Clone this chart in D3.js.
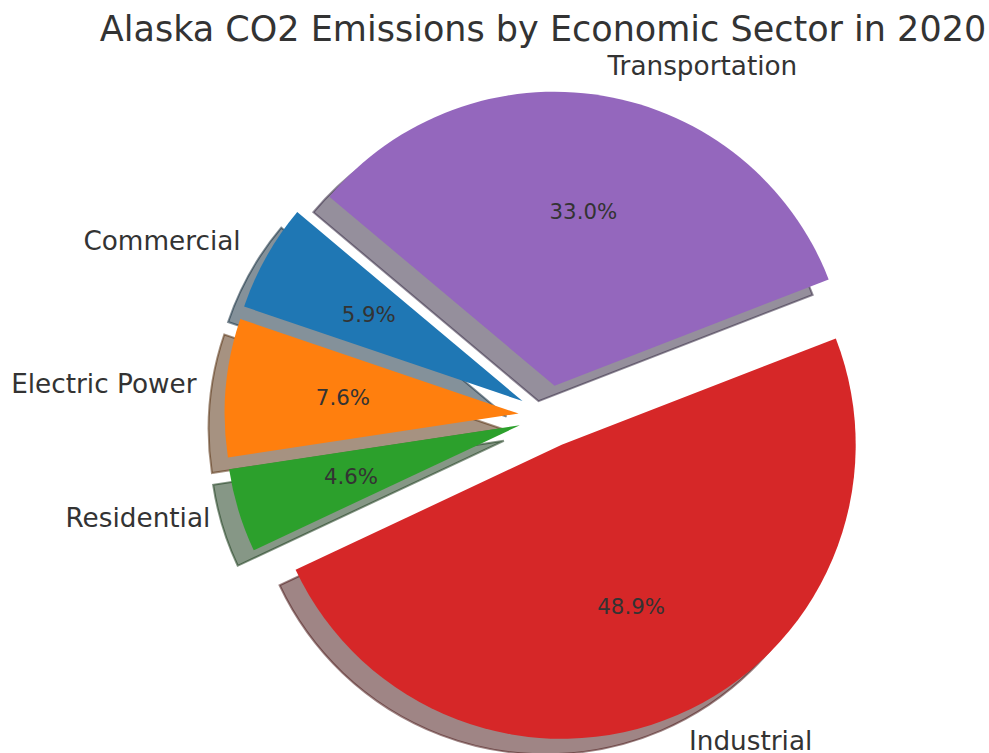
<!DOCTYPE html>
<html>
<head>
<meta charset="utf-8">
<script src="https://cdn.jsdelivr.net/npm/d3@7"></script>
<style>
  body { margin: 0; background: #fff; }
  text { font-family: "DejaVu Sans", sans-serif; fill: #333; }
</style>
</head>
<body>
<svg id="root"></svg>
<script>
var sectors = ['Commercial', 'Electric Power', 'Residential', 'Industrial', 'Transportation'];
var shares = [5.9, 7.6, 4.6, 48.9, 33.0];
var colors = ['#1f77b4', '#ff7f0e', '#2ca02c', '#d62728', '#9467bd'];
var title = 'Alaska CO2 Emissions by Economic Sector in 2020';

var width = 989,
    height = 753,
    cx = 549.5,
    cy = 416.3,
    r = 294,
    explode = 31,
    shadowDx = -16,
    shadowDy = 15.5,
    root = d3.select('#root')
        .attr('width', width)
        .attr('height', height);

root.append('rect')
    .attr('width', width)
    .attr('height', height)
    .attr('fill', '#fff');

root.append('text')
    .attr('x', 543)
    .attr('y', 41)
    .attr('text-anchor', 'middle')
    .attr('font-size', 35)
    .text(title);

// matplotlib style: startangle 140, counterclockwise
var start = (90 - 140) * Math.PI / 180;
var pie = d3.pie()
    .sort(null)
    .value(function(d) { return d; })
    .startAngle(start)
    .endAngle(start - 2 * Math.PI);

var color = d3.scaleOrdinal().domain(sectors).range(colors);
var arc = d3.arc().innerRadius(0).outerRadius(r);
var total = d3.sum(shares);

var slices = pie(shares).map(function(p, i) {
    var mid = (p.startAngle + p.endAngle) / 2;
    p.name = sectors[i];
    p.ux = Math.sin(mid);
    p.uy = -Math.cos(mid);
    p.ox = cx + explode * p.ux;
    p.oy = cy + explode * p.uy;
    return p;
});

function shade(c) {
    var rgb = d3.rgb(c);
    return d3.rgb(rgb.r * 0.3, rgb.g * 0.3, rgb.b * 0.3).toString();
}

// shadows go under every wedge
root.append('g').selectAll('path')
    .data(slices)
    .enter()
        .append('path')
        .attr('transform', function(d) {
            return 'translate(' + (d.ox + shadowDx) + ',' + (d.oy + shadowDy) + ')';
        })
        .attr('d', arc)
        .attr('fill', function(d) { return shade(color(d.name)); })
        .attr('fill-opacity', 0.5)
        .attr('stroke', function(d) { return shade(color(d.name)); })
        .attr('stroke-opacity', 0.5)
        .attr('stroke-width', 2)
        .attr('stroke-linejoin', 'miter');

root.append('g').selectAll('path')
    .data(slices)
    .enter()
        .append('path')
        .attr('transform', function(d) {
            return 'translate(' + d.ox + ',' + d.oy + ')';
        })
        .attr('d', arc)
        .attr('fill', function(d) { return color(d.name); });

// category labels at 1.1 r
root.append('g').selectAll('text')
    .data(slices)
    .enter()
        .append('text')
        .attr('x', function(d) { return d.ox + 1.1 * r * d.ux; })
        .attr('y', function(d) { return d.oy + 1.1 * r * d.uy; })
        .attr('dy', '0.3em')
        .attr('text-anchor', function(d) { return d.ux > 0 ? 'start' : 'end'; })
        .attr('font-size', 26.3)
        .text(function(d) { return d.name; });

// percentages at 0.6 r
root.append('g').selectAll('text')
    .data(slices)
    .enter()
        .append('text')
        .attr('x', function(d) { return d.ox + 0.6 * r * d.ux; })
        .attr('y', function(d) { return d.oy + 0.6 * r * d.uy; })
        .attr('dy', '0.34em')
        .attr('text-anchor', 'middle')
        .attr('font-size', 21.3)
        .text(function(d) { return (d.value / total * 100).toFixed(1) + '%'; });
</script>
</body>
</html>
